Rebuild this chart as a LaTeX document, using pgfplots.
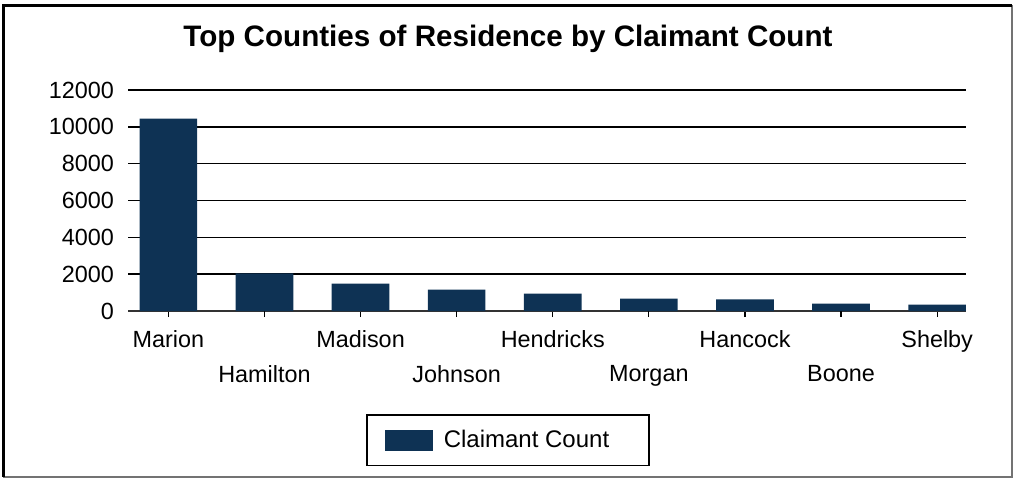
\documentclass[border=0pt]{standalone}
\usepackage{pgfplots}
\pgfplotsset{compat=1.18}
\usepackage{fontspec}
\setmainfont{Liberation Sans}
\definecolor{barblue}{HTML}{0E3254}
\begin{document}
\begin{tikzpicture}[x=1pt,y=1pt]
\useasboundingbox (0,0) rectangle (506.5,239.5);
\draw[black!55, line width=0.8pt] (1.6,1.1) -- (505.9,1.1) -- (505.9,236.8);
\draw[black, line width=1.4pt] (1.6,1.1) -- (1.6,236.8) -- (505.9,236.8);
\node[font=\fontsize{14.8}{17}\selectfont\bfseries] at (254,220.3) {Top Counties of Residence by Claimant Count};
\begin{axis}[
  at={(64pt,84pt)}, anchor=south west,
  scale only axis, width=419pt, height=110.5pt,
  ymin=0, ymax=12000, ytick={0,2000,...,12000},
  xmin=-0.42, xmax=8.3,
  xtick={0,2,4,6,8},
  xticklabels={Marion,Madison,Hendricks,Hancock,Shelby},
  extra x ticks={1,3,5,7},
  extra x tick labels={Hamilton,Johnson,Morgan,Boone},
  extra x tick style={xticklabel style={yshift=-17.5pt}},
  axis x line*=bottom, axis y line*=left,
  y axis line style={draw=none},
  x axis line style={black!80, line width=0.9pt},
  ymajorgrids, grid style={black, line width=0.8pt},
  tick align=outside, major tick length=3pt,
  xtick style={black, line width=0.6pt},
  ytick style={draw=none},
  ticklabel style={font=\fontsize{11.7}{13}\selectfont},
  xticklabel style={yshift=-3pt},
  yticklabel style={xshift=-0.5pt},
  /pgf/number format/assume math mode=true,
  scaled y ticks=false,
  yticklabel={\pgfmathprintnumber[fixed,1000 sep={}]{\tick}},
  legend style={at={(0.4535,-0.5855)}, anchor=center, draw=black, line width=0.8pt,
    font=\fontsize{12}{14}\selectfont, inner xsep=9pt, inner ysep=5.5pt,
    cells={anchor=west}},
  legend image code/.code={\fill[#1] (0pt,-5.25pt) rectangle (24pt,5.25pt);},
]
\addplot[ybar, bar width=0.6, fill=barblue, draw=none] coordinates {
(0,10440) (1,2040) (2,1490) (3,1165) (4,945) (5,675) (6,636) (7,402) (8,348)};
\addlegendentry{\kern3.5pt Claimant Count\kern9pt}
\end{axis}
\end{tikzpicture}
\end{document}
